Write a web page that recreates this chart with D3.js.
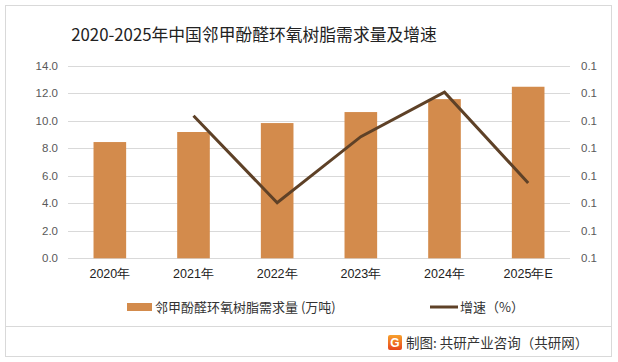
<!DOCTYPE html>
<html>
<head>
<meta charset="utf-8">
<script src="https://cdn.jsdelivr.net/npm/d3@7"></script>
<style>
  body { margin: 0; background: #fff; }
  svg { display: block; font-family: "Noto Sans CJK SC", "Liberation Sans", sans-serif; }
</style>
</head>
<body>
<svg id="chart" width="618" height="362"></svg>
<script>
"use strict"

// categories and series
const years = ["2020年", "2021年", "2022年", "2023年", "2024年", "2025年E"];
const demand = [8.45, 9.18, 9.83, 10.63, 11.57, 12.47];      // 万吨
const growth = [null, 0.0859, 0.0701, 0.0821, 0.0902, 0.0737]; // 增速
const leftTicks = [0, 2, 4, 6, 8, 10, 12, 14];
const rightTicks = [0.060, 0.065, 0.070, 0.075, 0.080, 0.085, 0.090, 0.095];

const svg = d3.select("#chart");

// outer frame
svg.append("rect")
    .attr("x", 5.5).attr("y", 5.5)
    .attr("width", 606).attr("height", 351)
    .attr("fill", "#fff")
    .attr("stroke", "#d9d9d9");

// plot area
const plotL = 68, plotR = 570, plotT = 65.7, plotB = 258.3;

const x = d3.scaleBand().domain(years).range([plotL, plotR]).paddingInner(0.61).paddingOuter(0.305);
const yL = d3.scaleLinear().domain([0, 14]).range([plotB, plotT]);
const yR = d3.scaleLinear().domain([0.060, 0.095]).range([plotB, plotT]);

// title
svg.append("text")
    .attr("x", 254).attr("y", 41)
    .attr("text-anchor", "middle")
    .attr("font-size", 16.8)
    .attr("fill", "#222")
    .text("2020-2025年中国邻甲酚醛环氧树脂需求量及增速");

// gridlines
svg.append("g")
    .selectAll("line")
    .data(leftTicks)
    .join("line")
    .attr("x1", plotL).attr("x2", plotR)
    .attr("y1", d => Math.round(yL(d)) + 0.5)
    .attr("y2", d => Math.round(yL(d)) + 0.5)
    .attr("stroke", "#d9d9d9");

// left axis
const axL = svg.append("g")
    .attr("transform", `translate(${plotL},0)`)
    .call(d3.axisLeft(yL).tickValues(leftTicks).tickFormat(d3.format(".1f")).tickSize(0).tickPadding(10));
axL.select(".domain").remove();
axL.selectAll("text").attr("font-size", 11.5).attr("fill", "#595959")
    .attr("font-family", "Liberation Sans, sans-serif");

// right axis
const axR = svg.append("g")
    .attr("transform", `translate(${plotR},0)`)
    .call(d3.axisRight(yR).tickValues(rightTicks).tickFormat(d3.format(".1f")).tickSize(0).tickPadding(11));
axR.select(".domain").remove();
axR.selectAll("text").attr("font-size", 11.5).attr("fill", "#595959")
    .attr("font-family", "Liberation Sans, sans-serif");

// bars
svg.append("g")
    .selectAll("rect")
    .data(demand)
    .join("rect")
    .attr("x", (d, i) => x(years[i]))
    .attr("width", x.bandwidth())
    .attr("y", d => yL(d))
    .attr("height", d => yL(0) - yL(d))
    .attr("fill", "#d38b4c");

// growth line
const line = d3.line()
    .defined(d => d != null)
    .x((d, i) => x(years[i]) + x.bandwidth() / 2)
    .y(d => yR(d));

svg.append("path")
    .datum(growth)
    .attr("d", line)
    .attr("fill", "none")
    .attr("stroke", "#5e4127")
    .attr("stroke-width", 3);

// x labels
const axX = svg.append("g")
    .attr("transform", `translate(0,${plotB})`)
    .call(d3.axisBottom(x).tickSize(0).tickPadding(11));
axX.select(".domain").remove();
axX.selectAll("text").attr("font-size", 12.5).attr("fill", "#222");

// legend
const lg = svg.append("g");
lg.append("rect").attr("x", 127).attr("y", 303).attr("width", 25).attr("height", 8).attr("fill", "#d38b4c");
lg.append("text").attr("x", 155).attr("y", 312).attr("font-size", 13).attr("fill", "#333")
    .text("邻甲酚醛环氧树脂需求量 (万吨)");
lg.append("line").attr("x1", 430).attr("x2", 458).attr("y1", 307).attr("y2", 307)
    .attr("stroke", "#5e4127").attr("stroke-width", 3);
lg.append("text").attr("x", 460).attr("y", 312).attr("font-size", 13).attr("fill", "#333")
    .text("增速（%）");

// footer separator
svg.append("line")
    .attr("x1", 6).attr("x2", 611).attr("y1", 326.5).attr("y2", 326.5)
    .attr("stroke", "#d9d9d9");

// footer logo + source
const logo = svg.append("g").attr("transform", "translate(388,335)");
const grad = svg.append("defs").append("linearGradient").attr("id", "lg1")
    .attr("x1", 0).attr("y1", 0).attr("x2", 0).attr("y2", 1);
grad.append("stop").attr("offset", 0).attr("stop-color", "#f7a12d");
grad.append("stop").attr("offset", 1).attr("stop-color", "#e8451c");
logo.append("rect").attr("width", 14).attr("height", 15).attr("rx", 2).attr("fill", "url(#lg1)");
logo.append("text").attr("x", 7).attr("y", 12).attr("text-anchor", "middle")
    .attr("font-size", 12).attr("font-weight", "bold").attr("fill", "#fff")
    .attr("font-family", "Liberation Sans, sans-serif").text("G");

svg.append("text")
    .attr("x", 406).attr("y", 348)
    .attr("font-size", 13.5).attr("fill", "#333")
    .text("制图: 共研产业咨询（共研网）");
</script>
</body>
</html>
